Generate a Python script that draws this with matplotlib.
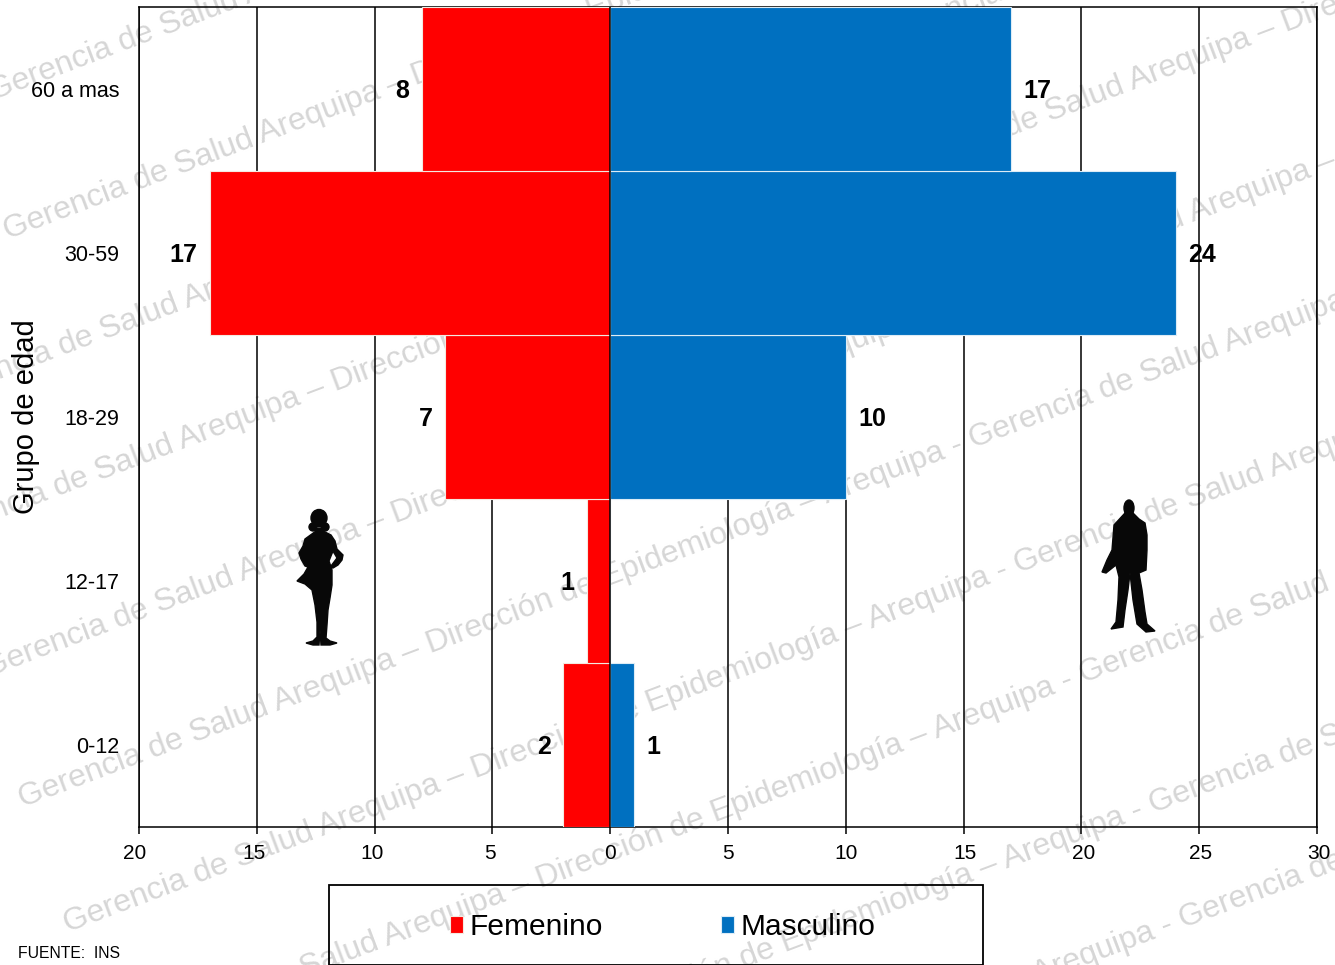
import matplotlib
matplotlib.use("Agg")
import matplotlib.pyplot as plt
from matplotlib.patches import Polygon, Ellipse, Rectangle
from matplotlib.transforms import ScaledTranslation

plt.rcParams['font.family'] = ['Liberation Sans', 'DejaVu Sans']

W, H = 1335, 965

# data
grupos = ["0-12", "12-17", "18-29", "30-59", "60 a mas"]
femenino = [2, 1, 7, 17, 8]
masculino = [1, 0, 10, 24, 17]
xticks = [-20, -15, -10, -5, 0, 5, 10, 15, 20, 25, 30]
xlabels = ["20", "15", "10", "5", "0", "5", "10", "15", "20", "25", "30"]
# the original tick labels do not sit quite under their ticks (pixels)
xlabel_shift = [-4, -3, -3, -2.5, 0, 0, 0.5, 1, 2, 1.5, 1.5]

# watermark text, and where each copy starts (pixels from top left)
marca = "Gerencia de Salud Arequipa \u2013 Direcci\u00f3n de Epidemiolog\u00eda \u2013 Arequipa - "
marca_inicio = [(-10, 93), (5, 232), (-70, 397), (-75, 538), (-15, 670), (20, 800),
                (65, 925), (130, 1035), (200, 1165), (230, 1280)]

# silhouettes, in pixels from top left
mujer = [(316, 531), (323, 531), (331, 535), (335, 541), (337, 549), (343, 555), (342, 560),
         (338, 565), (333, 568), (331, 566), (337, 558), (333, 551), (331, 556), (329, 561),
         (332, 570), (332, 585), (330, 598), (328, 610), (327, 625), (326, 638), (330, 641),
         (337, 643), (330, 645), (321, 645), (320, 630), (319, 645), (313, 645), (306, 643),
         (313, 641), (317, 637), (317, 622), (315, 605), (312, 590), (305, 584), (297, 581),
         (304, 574), (308, 567), (305, 566), (301, 559), (299, 553), (303, 546), (305, 539)]
hombre = [(1125, 513), (1133, 513), (1139, 519), (1145, 523), (1147, 535), (1147, 550),
          (1146, 570), (1139, 573), (1142, 590), (1145, 612), (1147, 624), (1155, 631),
          (1146, 632), (1137, 624), (1133, 600), (1130, 573), (1128, 590), (1125, 610),
          (1123, 627), (1111, 629), (1116, 622), (1118, 600), (1119, 577), (1116, 565),
          (1106, 573), (1102, 572), (1107, 560), (1112, 550), (1114, 525)]


def px(x, y):
    return x / W, 1 - y / H


fig = plt.figure(figsize=(W / 100, H / 100), dpi=100)
ax = fig.add_axes([139 / W, 1 - 827 / H, (1317 - 139) / W, (827 - 7) / H])
ax.patch.set_alpha(0)

# watermark goes under everything
for x0, y0 in marca_inicio:
    fx, fy = px(x0, y0)
    fig.text(fx, fy, marca * 2, fontsize=23, color="#d6d6d6", rotation=20.7,
             rotation_mode="anchor", ha="left", va="center", zorder=-5, clip_on=False)

ypos = range(len(grupos))
neg = [-v for v in femenino]
b1 = ax.barh(ypos, neg, height=1, color="#FF0000", edgecolor="#f4e9e0", linewidth=0.8, zorder=3,
             label="Femenino")
b2 = ax.barh(ypos, masculino, height=1, color="#0070C0", edgecolor="#dcecf6", linewidth=0.8, zorder=3,
             label="Masculino")

l1 = ax.bar_label(b1, labels=[str(v) for v in femenino], padding=9, fontsize=18, fontweight="bold")
l2 = ax.bar_label(b2, labels=[str(v) if v else "" for v in masculino], padding=9, fontsize=18,
                  fontweight="bold")
for t in list(l1) + list(l2):
    t.xyann = (t.xyann[0], t.xyann[1] - 1.5)

ax.set_xlim(-20, 30)
ax.set_ylim(-0.5, 4.5)
ax.set_xticks(xticks)
ax.set_xticklabels(xlabels, fontsize=15)
ax.set_yticks(list(ypos))
ax.set_yticklabels(grupos, fontsize=15.5)
ax.tick_params(axis="x", length=5, width=1.1, pad=7)
ax.tick_params(axis="y", length=0, pad=14)
for t, d in zip(ax.get_xticklabels(), xlabel_shift):
    t.set_transform(t.get_transform() + ScaledTranslation(d / 100, 0, fig.dpi_scale_trans))
ax.grid(axis="x", color="black", linewidth=1.1, zorder=1)
ax.set_axisbelow(True)
ax.axvline(0, color="black", linewidth=1.1, zorder=4)
for s in ax.spines.values():
    s.set_linewidth(1.1)

fig.text(*px(26, 417), "Grupo de edad", fontsize=21, rotation=90, ha="center", va="center")
fig.text(*px(18, 953), "FUENTE:  INS", fontsize=11.3, ha="left", va="center")

# figures
for pts in (mujer, hombre):
    fig.add_artist(Polygon([px(*p) for p in pts], closed=True, color="#080808",
                           transform=fig.transFigure))
for cx, cy, w, h in [(319, 518, 16, 17), (313, 527, 8, 8), (325, 527, 8, 8), (319, 531, 7, 6),
                     (1129, 508, 10, 16)]:
    fig.add_artist(Ellipse(px(cx, cy), w / W, h / H, color="#080808", transform=fig.transFigure))

# legend box runs off the bottom of the figure
x0, y0 = px(329, 965)
fig.add_artist(Rectangle((x0, y0), 654 / W, 80 / H, fill=False, edgecolor="black", linewidth=1.3,
                         transform=fig.transFigure))
fig.legend(handles=[b1, b2], loc="center left", bbox_to_anchor=px(449.5, 927), frameon=False,
           ncol=2, fontsize=21.5, handlelength=0.45, handleheight=0.5, handletextpad=0.22,
           columnspacing=3.95, borderpad=0, borderaxespad=0)

fig.savefig("out.png", dpi=100)
